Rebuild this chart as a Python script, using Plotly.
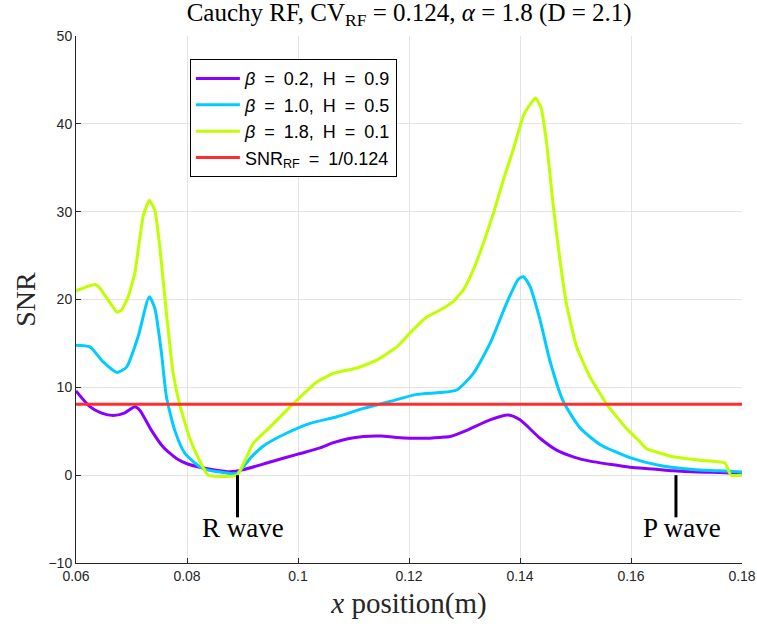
import plotly.graph_objects as go

# ---- data ----
x_b02 = [0.0600, 0.0625, 0.0645, 0.0667, 0.0688, 0.0706, 0.0715, 0.0736, 0.0757, 0.0769,
         0.0781, 0.0800, 0.0823, 0.0850, 0.0877, 0.0900, 0.0950, 0.1000, 0.1040, 0.1064,
         0.1090, 0.1118, 0.1150, 0.1178, 0.1226, 0.1256, 0.1274, 0.1304, 0.1346, 0.1379,
         0.1400, 0.1436, 0.1466, 0.1500, 0.1526, 0.1560, 0.1598, 0.1640, 0.1676, 0.1720,
         0.1760, 0.1800]
y_b02 = [9.6, 7.8, 7.1, 6.8, 7.1, 7.8, 7.4, 5.1, 3.2, 2.5,
         1.9, 1.3, 0.9, 0.6, 0.4, 0.6, 1.5, 2.4, 3.1, 3.7,
         4.15, 4.4, 4.45, 4.3, 4.2, 4.3, 4.4, 5.1, 6.3, 6.84,
         6.3, 4.2, 2.85, 2.0, 1.6, 1.25, 0.9, 0.7, 0.5, 0.35,
         0.3, 0.2]

x_b10 = [0.0600, 0.0625, 0.0649, 0.0674, 0.0691, 0.0712, 0.0732, 0.0742, 0.0754, 0.0763,
         0.0778, 0.0796, 0.0823, 0.0836, 0.0860, 0.0890, 0.0915, 0.0937, 0.0980, 0.1022,
         0.1070, 0.1118, 0.1166, 0.1214, 0.1256, 0.1286, 0.1316, 0.1346, 0.1376, 0.1397,
         0.1406, 0.1418, 0.1436, 0.1454, 0.1478, 0.1508, 0.1544, 0.1598, 0.1652, 0.1712,
         0.1760, 0.1800]
y_b10 = [14.8, 14.6, 12.9, 11.7, 12.3, 15.8, 20.3, 19.0, 13.9, 8.9,
         5.1, 2.5, 0.95, 0.6, 0.35, 0.2, 2.0, 3.3, 4.8, 5.9,
         6.65, 7.6, 8.4, 9.2, 9.4, 9.7, 11.6, 15.0, 19.6, 22.3,
         22.6, 21.5, 17.7, 13.0, 8.4, 5.4, 3.5, 2.0, 1.1, 0.65,
         0.5, 0.35]

x_b18 = [0.0600, 0.0634, 0.0643, 0.0674, 0.0682, 0.0694, 0.0706, 0.0721, 0.0732, 0.0742,
         0.0751, 0.0763, 0.0775, 0.0787, 0.0805, 0.0820, 0.0838, 0.0890, 0.0919, 0.0950,
         0.0986, 0.1034, 0.1064, 0.1106, 0.1142, 0.1178, 0.1202, 0.1232, 0.1256, 0.1280,
         0.1298, 0.1316, 0.1334, 0.1352, 0.1370, 0.1388, 0.1406, 0.1418, 0.1428, 0.1438,
         0.1448, 0.1460, 0.1472, 0.1484, 0.1502, 0.1526, 0.1556, 0.1592, 0.1616, 0.1628,
         0.1676, 0.1724, 0.1769, 0.1780, 0.1800]
y_b18 = [21.0, 21.7, 21.3, 18.55, 18.8, 20.3, 23.0, 29.5, 31.3, 30.2,
         26.0, 18.4, 11.6, 8.0, 4.2, 2.0, 0.0, 0.0, 3.6, 5.5,
         7.8, 10.6, 11.6, 12.2, 13.1, 14.6, 16.2, 18.0, 18.8, 19.8,
         21.1, 23.4, 26.4, 29.8, 33.6, 37.1, 40.9, 42.2, 42.95, 41.8,
         37.8, 30.6, 24.5, 19.4, 14.6, 11.2, 8.1, 5.3, 3.8, 3.0,
         2.1, 1.7, 1.4, 0.0, 0.0]

cv_rf = 0.124
x_range = [0.06, 0.18]
y_range = [-10, 50]

SP = "\u2002"  # wide space, as in the reference legend
series_names = [f"<i>β</i>{SP}={SP}0.2,{SP}H{SP}={SP}0.9",
                f"<i>β</i>{SP}={SP}1.0,{SP}H{SP}={SP}0.5",
                f"<i>β</i>{SP}={SP}1.8,{SP}H{SP}={SP}0.1",
                f"SNR<sub>RF</sub>{SP}={SP}1/0.124"]
series_colors = ["#8a00ff", "#00ccff", "#bfff00", "#ff2d2d"]
series_smoothing = [0.6, 0.6, 0.4]

wave_names = ["R wave", "P wave"]
wave_x = [0.0891, 0.1681]
wave_tip = [0.0, 0.0]
wave_base = [-4.8, -4.8]
wave_text_y = [-6.0, -6.0]

x_tickvals = [0.06, 0.08, 0.10, 0.12, 0.14, 0.16, 0.18]
x_ticktext = ["0.06", "0.08", "0.1", "0.12", "0.14", "0.16", "0.18"]
y_tickvals = [-10, 0, 10, 20, 30, 40, 50]

# ---- figure ----
fig = go.Figure()
for xs, ys, name, col, sm in zip([x_b02, x_b10, x_b18], [y_b02, y_b10, y_b18],
                                 series_names[:3], series_colors[:3], series_smoothing):
    fig.add_trace(go.Scatter(x=xs, y=ys, mode="lines", name=name,
                             line=dict(color=col, width=3, shape="spline", smoothing=sm)))
fig.add_trace(go.Scatter(x=x_range, y=[1 / cv_rf, 1 / cv_rf], mode="lines",
                         name=series_names[3],
                         line=dict(color=series_colors[3], width=3)))

for wx, t0, t1, ty, wn in zip(wave_x, wave_tip, wave_base, wave_text_y, wave_names):
    fig.add_shape(type="line", xref="x", yref="y", x0=wx, x1=wx, y0=t0, y1=t1,
                  line=dict(color="black", width=3))
    fig.add_annotation(x=wx + 0.001, y=ty, xref="x", yref="y", text=wn,
                       showarrow=False, yanchor="middle", xanchor="center",
                       font=dict(family="Liberation Serif", size=27, color="black"))

axis_common = dict(showgrid=True, gridcolor="#e3e3e3", gridwidth=1,
                   showline=True, linecolor="#262626", linewidth=1,
                   ticks="inside", ticklen=5, tickcolor="#262626",
                   zeroline=False, mirror=False, automargin=False,
                   tickfont=dict(family="Liberation Sans", size=14, color="#262626"))

fig.update_layout(
    width=757, height=624, autosize=False,
    margin=dict(l=76, r=15, t=36, b=61, autoexpand=False),
    paper_bgcolor="white", plot_bgcolor="white",
    title=dict(text="Cauchy RF, CV<sub>RF</sub> = 0.124, <i>α</i> = 1.8 (D = 2.1)",
               x=0.5405, xanchor="center", y=0.995, yanchor="top",
               font=dict(family="Liberation Serif", size=25, color="black")),
    xaxis=dict(range=x_range, tickvals=x_tickvals, ticktext=x_ticktext,
               title=dict(text="<i>x</i> position(m)", standoff=9,
                          font=dict(family="Liberation Serif", size=29, color="#262626")),
               **axis_common),
    yaxis=dict(range=y_range, tickvals=y_tickvals,
               title=dict(text="SNR", standoff=4,
                          font=dict(family="Liberation Serif", size=28, color="#262626")),
               **axis_common),
    legend=dict(x=0.171, y=0.956, xanchor="left", yanchor="top",
                bgcolor="white", bordercolor="black", borderwidth=1,
                font=dict(family="Liberation Sans", size=18, color="black"),
                itemwidth=44, tracegroupgap=0),
    showlegend=True,
)

fig.write_html("out.html")
